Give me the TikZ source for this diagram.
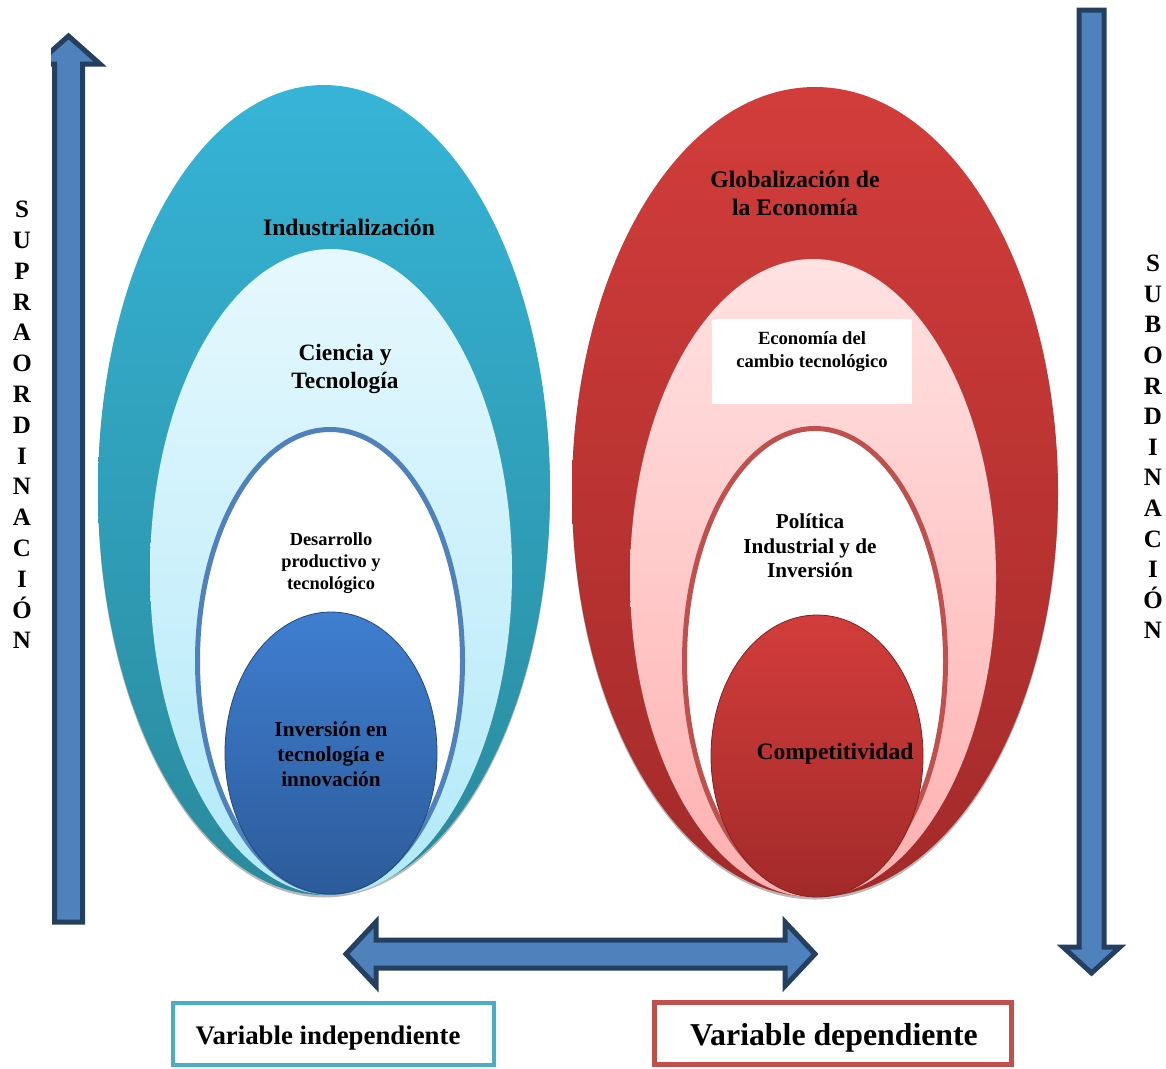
\documentclass[tikz,border=0pt]{standalone}
\usepackage{fontspec}
\setmainfont{Liberation Serif}
\usetikzlibrary{shapes.geometric,shadows}

\definecolor{arrowfill}{HTML}{4F81BD}
\definecolor{arrowline}{HTML}{243F60}
\definecolor{tealtop}{HTML}{36B4D7}
\definecolor{tealbot}{HTML}{2A8A9C}
\definecolor{cyantop}{HTML}{E6F8FD}
\definecolor{cyanbot}{HTML}{B2E9F9}
\definecolor{bluetop}{HTML}{3F7ED0}
\definecolor{bluebot}{HTML}{2C5B9A}
\definecolor{redtop}{HTML}{D23D3B}
\definecolor{redbot}{HTML}{A32A2A}
\definecolor{pinktop}{HTML}{FFE2E2}
\definecolor{pinkbot}{HTML}{FFB0B0}
\definecolor{ringblue}{HTML}{4F81BD}
\definecolor{ringred}{HTML}{C0504D}
\definecolor{boxteal}{HTML}{4BACC6}
\definecolor{boxred}{HTML}{C0504D}

\newcommand\setfs[2]{\fontsize{#1}{#2}\selectfont}

\begin{document}
\begin{tikzpicture}[x=1pt,y=-1pt,
  oval/.style={ellipse,inner sep=0pt,outer sep=0pt},
  rimshadow/.style={drop shadow={shadow xshift=0pt,shadow yshift=-2.5pt,fill=black!35,opacity=0.8}},
  bigarrow/.style={fill=arrowfill,draw=arrowline,line width=5pt,line join=miter,miter limit=10},
  lbl/.style={font=\bfseries,align=center,text=black,inner sep=0pt},
  varbox/.style={draw,fill=white,inner sep=0pt,outer sep=0pt}]

\useasboundingbox (0,0) rectangle (1166,1068);

% ---------- left cluster: independent variable ----------
\node[oval,rimshadow,minimum width=452pt,minimum height=810pt,
      top color=tealtop,bottom color=tealbot] (indus) at (324,490) {};
\node[oval,minimum width=362pt,minimum height=646pt,
      top color=cyantop,bottom color=cyanbot] (ciencia) at (331,572) {};
\node[oval,fill=white,draw=ringblue,line width=5pt,
      minimum width=265pt,minimum height=463pt] (desarrollo) at (330,661) {};
\node[oval,draw=bluebot!80!black,line width=0.8pt,minimum width=212pt,minimum height=282pt,
      top color=bluetop,bottom color=bluebot] (inversion) at (331,753) {};

\node[lbl,font=\bfseries\setfs{23.6}{28}] (tIndus) at (349,227) {Industrialización};
\node[lbl,font=\bfseries\setfs{23.4}{28}] (tCiencia) at (345,369) {Ciencia y\\Tecnología};
\node[lbl,font=\bfseries\setfs{18.4}{22}] (tDesarrollo) at (331,563) {Desarrollo\\productivo y\\tecnológico};
\node[lbl,font=\bfseries\setfs{21.3}{25}] (tInversion) at (331,754) {Inversión en\\tecnología e\\innovación};

% ---------- right cluster: dependent variable ----------
\node[oval,rimshadow,minimum width=486pt,minimum height=810pt,
      top color=redtop,bottom color=redbot] (global) at (815,492) {};
\node[oval,minimum width=366pt,minimum height=638pt,
      top color=pinktop,bottom color=pinkbot] (cambio) at (813,578) {};
\node[oval,fill=white,draw=ringred,line width=5pt,
      minimum width=261pt,minimum height=465pt] (politica) at (815,661) {};
\node[oval,draw=redbot!80!black,line width=0.8pt,minimum width=212pt,minimum height=282pt,
      top color=redtop,bottom color=redbot] (compet) at (817,756) {};

\node[fill=white,inner sep=0pt,minimum width=200pt,minimum height=85pt] (cambioBox) at (812,361.5) {};

\node[lbl,font=\bfseries\setfs{23.7}{28}] (tGlobal) at (795,193) {Globalización de\\la Economía};
\node[lbl,font=\bfseries\setfs{18.6}{23}] (tCambio) at (812,352) {Economía del\\cambio tecnológico};
\node[lbl,font=\bfseries\setfs{21.2}{24.5}] (tPolitica) at (810,546) {Política\\Industrial y de\\Inversión};
\node[lbl,font=\bfseries\setfs{23.5}{28}] (tCompet) at (835,754) {Competitividad};

% ---------- vertical arrows ----------
\begin{scope}
  \clip (51,0) rectangle (130,940);
  \draw[bigarrow] (54.5,922) -- (54.5,64) -- (37,64) -- (68.5,36) -- (100,64) -- (82.5,64) -- (82.5,922) -- cycle;
\end{scope}
\draw[bigarrow] (1079,10) -- (1104,10) -- (1104,947) -- (1120,947) -- (1091.5,973)
   -- (1063,947) -- (1079,947) -- cycle;

\node[lbl,font=\bfseries\setfs{25}{30.8}] (supra) at (22,425)
  {S\\U\\P\\R\\A\\O\\R\\D\\I\\N\\A\\C\\I\\Ó\\N};
\node[lbl,font=\bfseries\setfs{25}{30.6}] (sub) at (1153,447)
  {S\\U\\B\\O\\R\\D\\I\\N\\A\\C\\I\\Ó\\N};

% ---------- horizontal double arrow ----------
\draw[bigarrow] (346,954) -- (376,922) -- (376,940) -- (785,940) -- (785,922) -- (815,954)
   -- (785,986) -- (785,968) -- (376,968) -- (376,986) -- cycle;

% ---------- variable boxes ----------
\node[varbox,draw=boxteal,line width=4pt,minimum width=321pt,minimum height=62pt] (indep) at (333.5,1034) {};
\node[lbl,font=\bfseries\setfs{26.8}{30}] (tIndep) at (328,1038) {Variable independiente};
\node[varbox,draw=boxred,line width=5pt,minimum width=357pt,minimum height=62pt] (dep) at (833,1033.5) {};
\node[lbl,font=\bfseries\setfs{31.8}{36}] (tDep) at (834,1038) {Variable dependiente};

\end{tikzpicture}
\end{document}
